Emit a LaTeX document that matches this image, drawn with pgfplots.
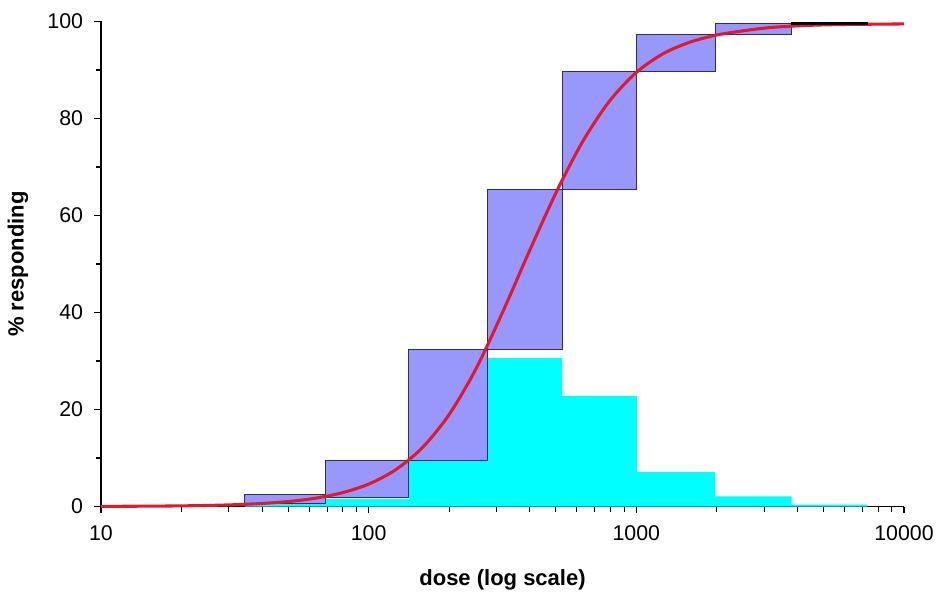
\documentclass[border=0pt]{standalone}
\usepackage{fontspec}
\setmainfont{Liberation Sans}
\usepackage{pgfplots}
\pgfplotsset{compat=1.18}
\definecolor{boxfill}{RGB}{152,152,252}
\definecolor{boxedge}{RGB}{45,45,95}
\definecolor{cyanbar}{RGB}{0,255,255}
\definecolor{curvecol}{RGB}{225,25,45}
\begin{document}
\begin{tikzpicture}
\begin{axis}[
  name=ax, scale only axis, width=602.25pt, height=363.75pt,
  xmode=log, xmin=10, xmax=10000, ymin=0, ymax=100,
  axis x line=bottom, axis y line=left,
  axis line style={-, black, line width=0.8pt},
  xtick={10,100,1000,10000}, xticklabels={10,100,1000,10000},
  ytick={0,20,40,60,80,100}, minor ytick={10,30,50,70,90},
  tick align=outside, major tick length=5pt, minor tick length=4pt,
  tick style={black, line width=0.8pt},
  /pgf/number format/assume math mode=true,
  ticklabel style={font=\fontsize{16}{19}\selectfont},
  xticklabel style={yshift=-6pt},
  yticklabel style={xshift=-5pt},
  every axis x label/.style={at={(axis description cs:0.5,-0.1515)}, anchor=center, font=\fontsize{16.5}{20}\selectfont\bfseries},
  every axis y label/.style={at={(axis description cs:-0.1034,0.5)}, anchor=center, rotate=90, font=\fontsize{16.5}{20}\selectfont\bfseries},
  xlabel={dose (log scale)}, ylabel={\% responding},
  clip=false,
]
% frequency per dose bin (cyan)
\addplot[const plot, fill=cyanbar, draw=none] coordinates {
  (34.5,0.6) (69,1.5) (141,9.4) (277,30.6) (528,22.8) (1005,7.1) (1970,2.1) (3800,0.4) (7300,0.4)
} \closedcycle;
% cumulative boxes
\addplot[fill=boxfill, draw=boxedge, line width=0.75pt] coordinates {(34.5,0.65) (69,0.65) (69,2.4) (34.5,2.4)} --cycle;
\addplot[fill=boxfill, draw=boxedge, line width=0.75pt] coordinates {(69,1.9) (141,1.9) (141,9.4) (69,9.4)} --cycle;
\addplot[fill=boxfill, draw=boxedge, line width=0.75pt] coordinates {(141,9.4) (277,9.4) (277,32.4) (141,32.4)} --cycle;
\addplot[fill=boxfill, draw=boxedge, line width=0.75pt] coordinates {(277,32.4) (528,32.4) (528,65.3) (277,65.3)} --cycle;
\addplot[fill=boxfill, draw=boxedge, line width=0.75pt] coordinates {(528,65.3) (1005,65.3) (1005,89.7) (528,89.7)} --cycle;
\addplot[fill=boxfill, draw=boxedge, line width=0.75pt] coordinates {(1005,89.7) (1970,89.7) (1970,97.4) (1005,97.4)} --cycle;
\addplot[fill=boxfill, draw=boxedge, line width=0.75pt] coordinates {(1970,97.4) (3800,97.4) (3800,99.5) (1970,99.5)} --cycle;
% fitted curve
\addplot[curvecol, line width=2.3pt, smooth] coordinates {
  (10,0.03) (12.59,0.05) (15.85,0.08) (19.95,0.13) (25.12,0.22) (31.62,0.37)
  (39.81,0.62) (50.12,1.02) (63.10,1.70) (79.43,2.82) (100,4.62) (125.9,7.55)
  (158.5,12.10) (199.5,18.90) (251.2,28.30) (316.2,40.00) (398.1,52.60) (501.2,64.70)
  (631.0,75.30) (794.3,83.60) (1000,89.50) (1259,93.36) (1585,95.74) (1995,97.20)
  (2512,98.09) (3162,98.75) (3981,99.10) (5012,99.30) (6310,99.40) (7943,99.45) (10000,99.50)
};
% last (collapsed) box
\addplot[fill=boxfill, draw=black, line width=1.5pt] coordinates {(3800,99.5) (7300,99.5) (7300,99.6) (3800,99.6)} --cycle;
\end{axis}
\pgfresetboundingbox
\path (ax.south west) ++(-75.75pt,-67.875pt) rectangle ++(702pt,447.75pt);
\end{tikzpicture}
\end{document}
